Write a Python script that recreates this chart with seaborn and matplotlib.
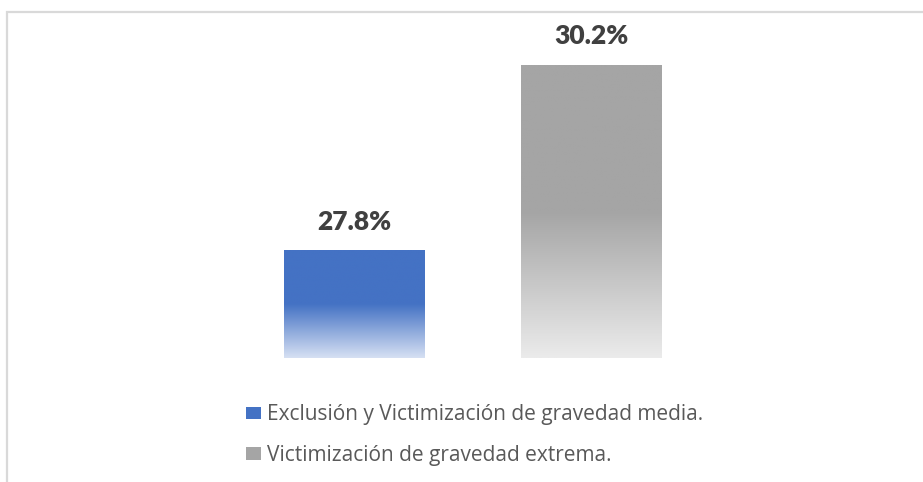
import numpy as np
import pandas as pd
import matplotlib
matplotlib.use('Agg')
import matplotlib.pyplot as plt
import matplotlib.patches as mpatches
from matplotlib.colors import LinearSegmentedColormap
import seaborn as sns

categories = ['Exclusión y Victimización de gravedad media.',
              'Victimización de gravedad extrema.']
values = [27.8, 30.2]
top_colors = ['#4472C4', '#A5A5A5']
bottom_colors = ['#D6E0F3', '#EBEBEB']

sns.set_style('white')
plt.rcParams['font.family'] = ['Open Sans', 'DejaVu Sans']

df = pd.DataFrame({'cat': categories, 'val': values})

fig = plt.figure(figsize=(9.23, 4.82), dpi=100)
ax = fig.add_axes([236.1/923, 0.2579, 473.6/923, 0.68])
sns.barplot(data=df, x='cat', y='val', hue='cat', palette=top_colors,
            width=0.595, legend=False, ax=ax)
ax.set_xlim(-0.5, 1.5)
ax.set_ylim(26.41, 30.65)
ax.axis('off')

# gradient fill: solid in upper half, fading in lower half
for patch, top, bot, v in zip(ax.patches, top_colors, bottom_colors, values):
    x0, y0 = patch.get_x(), patch.get_y()
    w, h = patch.get_width(), patch.get_height()
    y_lo = ax.get_ylim()[0]
    cmap = LinearSegmentedColormap.from_list('g', [(0, bot), (0.5, top), (1, top)])
    grad = np.linspace(0, 1, 256).reshape(-1, 1)
    im = ax.imshow(grad, cmap=cmap, origin='lower', aspect='auto',
                   extent=[x0, x0 + w, y_lo, v], zorder=3)
    im.set_clip_path(patch)
    patch.set_facecolor('none')
    patch.set_edgecolor('none')
    ax.annotate(f'{v:.1f}%', (x0 + w/2, v), xytext=(0, 12), textcoords='offset points',
                ha='center', va='bottom', fontsize=19, fontweight='heavy',
                color='#404040', family=['Lato', 'DejaVu Sans'])
ax.set_xlim(-0.5, 1.5)
ax.set_ylim(26.41, 30.65)

handles = [mpatches.Patch(facecolor=c, edgecolor='none') for c in top_colors]
leg = fig.legend(handles, categories, loc='upper left', bbox_to_anchor=(238/923, 1 - 396/482),
                 frameon=False, fontsize=15, labelcolor='#595959',
                 handlelength=0.7, handleheight=0.55, handletextpad=0.3,
                 labelspacing=0.95, borderaxespad=0)

fig.add_artist(mpatches.Rectangle((7.5/923, -0.1), 1.2, (482 - 11.5)/482 + 0.1,
                                  transform=fig.transFigure, fill=False,
                                  edgecolor='#D9D9D9', linewidth=1.6))

plt.savefig('out.png', dpi=100)
